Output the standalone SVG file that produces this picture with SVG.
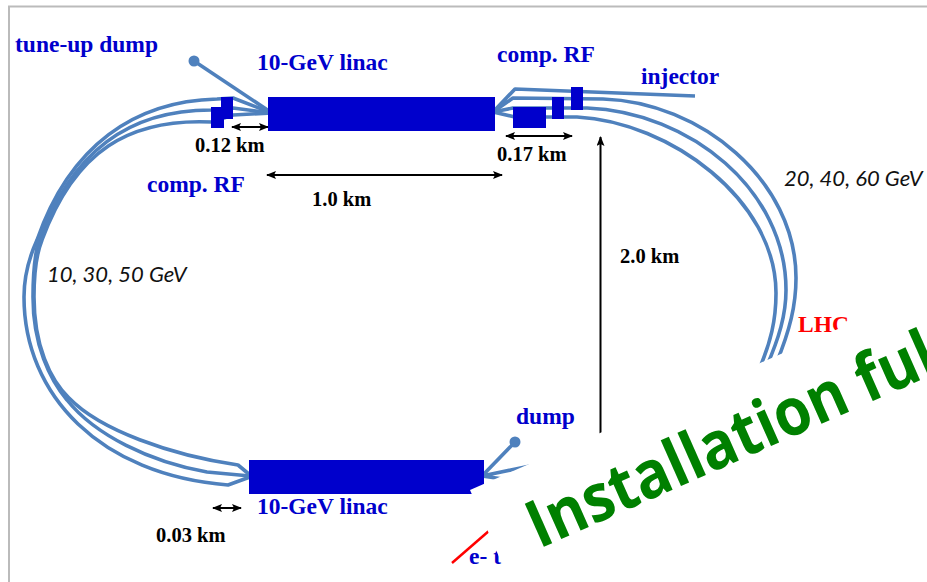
<svg xmlns="http://www.w3.org/2000/svg" width="927" height="582" viewBox="0 0 927 582">
<defs>
<marker id="ah" markerUnits="userSpaceOnUse" viewBox="0 0 10 8" refX="9" refY="4" markerWidth="10" markerHeight="8" orient="auto-start-reverse"><path d="M0,0 L10,4 L0,8 L2,4 z" fill="#000"/></marker>
</defs>
<style>
.b{fill:#0000cc}
.beam{fill:none;stroke:#4f81bd;stroke-width:3.6;stroke-linejoin:round}
.dim{fill:none;stroke:#000;stroke-width:2;marker-start:url(#ah);marker-end:url(#ah)}
text{font-family:"Liberation Serif",serif;font-weight:bold}
.lb{fill:#0000cc;font-size:23.5px}
.km{fill:#000;font-size:20.5px}
.gev{font-family:"Lato",sans-serif;font-weight:normal;font-style:italic;font-size:22px;fill:#111}
</style>
<rect width="927" height="582" fill="#fff"/>
<path d="M927,6.500H9V582" fill="none" stroke="#bbb" stroke-width="2"/>
<g id="connectors">
<path class="beam" d="M695,96 L515,89 L493,112 L513,98 L603,99 C700,102 796,180 796,278 C796,305 790,330 776,364"/>
<path class="beam" d="M493,112 L513,108 L587,108 C690,112 786,190 786,290 C786,315 779,338 766,368"/>
<path class="beam" d="M493,112 L515,117 L577,117 C670,122 776,200 776,293 C776,320 771,342 758,372"/>
<path class="beam" d="M272,113 L233,98 L217,99 C135,101 70,145 37,240 C28,260 24,280 24,297 C24,395 100,475 228,485 L250,477"/>
<path class="beam" d="M272,113 L233,108 L211,110 C130,110 72,150 38,243 C34,260 33,280 33,297 C33,345 50,380 67,400 C95,435 150,462 207,472 L250,476"/>
<path class="beam" d="M272,113 L233,115 L212,122 C130,118 75,150 42,240 C36,255 34,275 34,297 C34,345 50,380 69,398 C100,430 170,455 238,465 L250,475"/>
<path class="beam" d="M194,61 L272,113"/>
<path class="beam" d="M515,442 L482,476 L530,466 M482,476 L503,479"/>
<path class="dim" d="M232,127H268"/>
<path class="dim" d="M267,175H502"/>
<path class="dim" d="M506,136H572"/>
<path class="dim" d="M213,508H241"/>
<path d="M600.500,440V137" fill="none" stroke="#000" stroke-width="2" marker-end="url(#ah)"/>
</g>
<g id="tune-up-dump"><circle cx="194" cy="61" r="5.500" fill="#4f81bd"/><text class="lb" x="15" y="52">tune-up dump</text></g>
<g id="dump"><circle cx="515" cy="442" r="5.500" fill="#4f81bd"/><text class="lb" x="516" y="424">dump</text></g>
<g id="linac-top"><rect class="b" x="268" y="97" width="227" height="34"/><text class="lb" x="257" y="70">10-GeV linac</text></g>
<g id="linac-bottom"><rect class="b" x="249" y="460" width="235" height="34"/><text class="lb" x="257" y="514">10-GeV linac</text></g>
<g id="comp-rf-left"><rect class="b" x="221" y="97" width="12" height="22"/><rect class="b" x="211" y="107" width="13" height="21"/><text class="lb" x="147" y="192">comp. RF</text></g>
<g id="comp-rf-right"><rect class="b" x="513" y="107" width="33" height="21"/><rect class="b" x="552" y="97" width="12" height="22"/><rect class="b" x="571" y="87" width="12" height="23"/><text class="lb" x="497" y="62">comp. RF</text></g>
<g id="injector"><text class="lb" x="641" y="84">injector</text></g>
<g id="labels">
<text class="km" x="195" y="152">0.12 km</text>
<text class="km" x="312" y="206">1.0 km</text>
<text class="km" x="497" y="161">0.17 km</text>
<text class="km" x="620" y="263">2.0 km</text>
<text class="km" x="156" y="542">0.03 km</text>
<text class="gev" x="47" y="282">10, 30, 50 GeV</text>
<text class="gev" x="784" y="186">20, 40, 60 GeV</text>
<text class="lb" x="798" y="332" style="fill:#ff0000">LHC</text>
<text class="lb" x="469" y="564">e- t.</text>
</g>
<g id="electron-line"><path d="M452,563 L490,530" fill="none" stroke="#ff0000" stroke-width="2.500"/></g>
<polygon points="470,490 510,582 927,582 927,290" fill="#fff"/>
<g id="watermark"><text transform="translate(539,549) rotate(-23.900) scale(0.905,1)" fill="#008000" style="font-family:'Open Sans',sans-serif;font-weight:bold;font-size:66px">Installation ful</text></g>
</svg>
